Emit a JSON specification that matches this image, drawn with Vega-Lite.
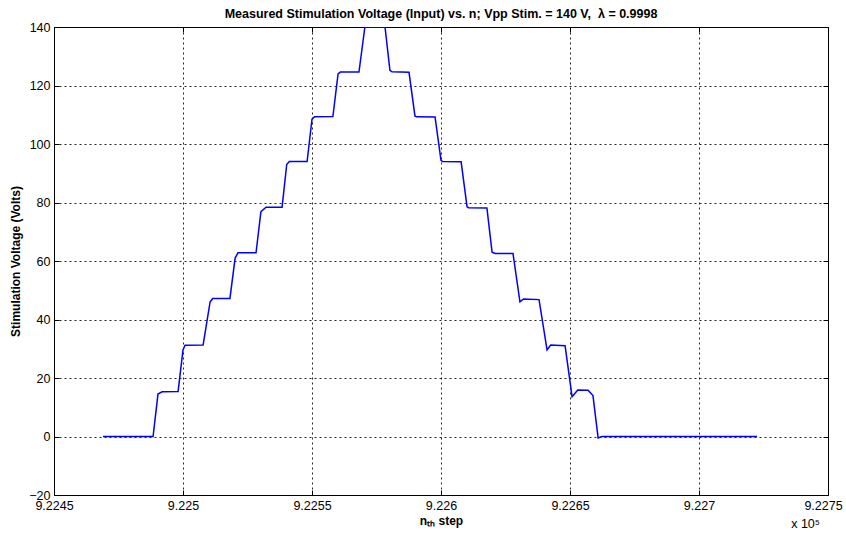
{
  "$schema": "https://vega.github.io/schema/vega-lite/v6.json",
  "width": 774,
  "height": 468,
  "autosize": {"type": "none"},
  "padding": {"left": 54, "top": 27, "right": 18, "bottom": 40},
  "background": "white",
  "title": {
    "text": "Measured Stimulation Voltage (Input) vs. n; Vpp Stim. = 140 V,\u00a0 λ = 0.9998",
    "font": "Liberation Sans",
    "fontSize": 12.5,
    "fontWeight": "bold",
    "anchor": "middle",
    "offset": 1,
    "color": "black"
  },
  "config": {
    "view": {"stroke": "black", "strokeWidth": 1},
    "axis": {
      "domain": false,
      "labelFont": "Liberation Sans",
      "labelFontSize": 12.5,
      "labelColor": "black",
      "titleFont": "Liberation Sans",
      "titleFontSize": 12,
      "titleFontWeight": "bold",
      "titleColor": "black",
      "tickColor": "black",
      "tickSize": -5,
      "labelPadding": 9,
      "gridColor": "black",
      "gridDash": [2, 3],
      "gridOpacity": 0.85,
      "gridWidth": 1,
      "labelFlush": false,
      "labelOverlap": false
    }
  },
  "layer": [
    {
      "data": {
        "values": [
          {"n": 922469, "v": 0},
          {"n": 922488.4, "v": 0},
          {"n": 922490.3, "v": 14.5},
          {"n": 922491.9, "v": 15.3},
          {"n": 922498.1, "v": 15.4},
          {"n": 922500.0, "v": 29.6},
          {"n": 922500.8, "v": 31.2},
          {"n": 922507.8, "v": 31.3},
          {"n": 922510.5, "v": 46.0},
          {"n": 922511.5, "v": 47.2},
          {"n": 922518.2, "v": 47.2},
          {"n": 922520.2, "v": 61.0},
          {"n": 922521.3, "v": 62.8},
          {"n": 922528.3, "v": 62.8},
          {"n": 922530.2, "v": 76.9},
          {"n": 922532.2, "v": 78.4},
          {"n": 922538.4, "v": 78.4},
          {"n": 922540.2, "v": 93.0},
          {"n": 922541.2, "v": 94.0},
          {"n": 922548.1, "v": 94.0},
          {"n": 922550.0, "v": 108.5},
          {"n": 922551.0, "v": 109.3},
          {"n": 922558.1, "v": 109.4},
          {"n": 922560.1, "v": 124.0},
          {"n": 922561.0, "v": 124.6},
          {"n": 922568.2, "v": 124.6},
          {"n": 922570.5, "v": 140},
          {"n": 922578.3, "v": 140},
          {"n": 922580.2, "v": 125.2},
          {"n": 922581.0, "v": 124.7},
          {"n": 922587.6, "v": 124.5},
          {"n": 922589.9, "v": 109.6},
          {"n": 922590.5, "v": 109.3},
          {"n": 922597.7, "v": 109.2},
          {"n": 922600.0, "v": 94.4},
          {"n": 922600.6, "v": 94.0},
          {"n": 922607.8, "v": 93.9},
          {"n": 922610.1, "v": 78.5},
          {"n": 922610.7, "v": 78.2},
          {"n": 922617.8, "v": 78.1},
          {"n": 922619.8, "v": 63.0},
          {"n": 922621.0, "v": 62.6},
          {"n": 922627.9, "v": 62.6},
          {"n": 922630.6, "v": 46.0},
          {"n": 922632.0, "v": 47.0},
          {"n": 922638.0, "v": 46.8},
          {"n": 922641.1, "v": 29.6},
          {"n": 922642.5, "v": 31.3},
          {"n": 922648.1, "v": 31.0},
          {"n": 922650.8, "v": 13.6},
          {"n": 922653.0, "v": 15.9},
          {"n": 922657.0, "v": 15.8},
          {"n": 922658.9, "v": 14.0},
          {"n": 922660.9, "v": -0.5},
          {"n": 922662.4, "v": 0},
          {"n": 922722.5, "v": 0}
        ]
      },
      "mark": {"type": "line", "color": "#0000ff", "strokeWidth": 1.5, "clip": true},
      "encoding": {
        "x": {
          "field": "n",
          "type": "quantitative",
          "scale": {"domain": [922450, 922750], "nice": false, "zero": false},
          "axis": {
            "orient": "bottom",
            "values": [922450, 922500, 922550, 922600, 922650, 922700, 922750],
            "labelExpr": "format(datum.value / 100000, '.5~g')",
            "labelOffset": {"condition": {"test": "datum.value >= 922740", "value": -5}, "value": 0},
            "grid": true,
            "title": "nₜₕ step",
            "titlePadding": 4
          }
        },
        "y": {
          "field": "v",
          "type": "quantitative",
          "scale": {"domain": [-20, 140], "nice": false, "zero": false},
          "axis": {
            "orient": "left",
            "values": [-20, 0, 20, 40, 60, 80, 100, 120, 140],
            "grid": true,
            "title": "Stimulation Voltage (Volts)",
            "titlePadding": 6
          }
        }
      }
    },
    {
      "data": {"values": [{"label": "x 10⁵"}]},
      "mark": {"type": "text", "align": "right", "baseline": "middle", "dx": -8, "dy": 29, "font": "Liberation Sans", "fontSize": 12.5, "fontWeight": "normal", "color": "black"},
      "encoding": {
        "text": {"field": "label"},
        "x": {
          "datum": 922750,
          "type": "quantitative",
          "axis": {
            "orient": "top",
            "values": [922450, 922500, 922550, 922600, 922650, 922700, 922750],
            "labels": false,
            "grid": false,
            "title": null
          }
        },
        "y": {
          "datum": -20,
          "type": "quantitative",
          "axis": {
            "orient": "right",
            "values": [-20, 0, 20, 40, 60, 80, 100, 120, 140],
            "labels": false,
            "grid": false,
            "title": null
          }
        }
      }
    }
  ],
  "resolve": {"axis": {"x": "independent", "y": "independent"}}
}
